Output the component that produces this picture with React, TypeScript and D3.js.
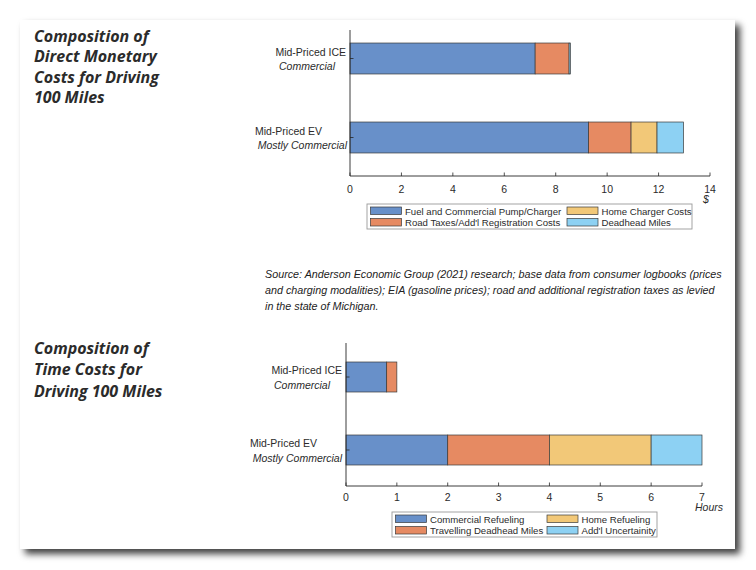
import React, { useEffect } from "react";
import * as d3 from "d3";

// ---------- Data ----------
const costCategories = ["Mid-Priced ICE", "Mid-Priced EV"];
const costSubtitles = ["Commercial", "Mostly Commercial"];
const costSeries = [
  "Fuel and Commercial Pump/Charger",
  "Road Taxes/Add'l Registration Costs",
  "Home Charger Costs",
  "Deadhead Miles",
];
const costFuel = [7.2, 9.28];
const costRoad = [1.32, 1.65];
const costHome = [0, 1.01];
const costDeadhead = [0.05, 1.03];
const costTicks = [0, 2, 4, 6, 8, 10, 12, 14];

const timeCategories = ["Mid-Priced ICE", "Mid-Priced EV"];
const timeSubtitles = ["Commercial", "Mostly Commercial"];
const timeSeries = [
  "Commercial Refueling",
  "Travelling Deadhead Miles",
  "Home Refueling",
  "Add'l Uncertainity",
];
const timeCommercial = [0.8, 2];
const timeDeadhead = [0.2, 2];
const timeHome = [0, 2];
const timeUncertainty = [0, 1];
const timeTicks = [0, 1, 2, 3, 4, 5, 6, 7];

const sourceLines = [
  "Source: Anderson Economic Group (2021) research; base data from consumer logbooks (prices",
  "and charging modalities); EIA (gasoline prices); road and additional registration taxes as levied",
  "in the state of Michigan.",
];
const title1 = ["Composition of", "Direct Monetary", "Costs for Driving", "100 Miles"];
const title2 = ["Composition of", "Time Costs for", "Driving 100 Miles"];

const colors = ["#6890c9", "#e68a62", "#f2c878", "#8dd1f3"];

const FONT = "'Liberation Sans', Arial, sans-serif";
const TITLE_FONT = "'Open Sans', sans-serif";
const TEXT = "#2b2b2b";

type ChartProps = {
  categories: string[];
  subtitles: string[];
  series: string[];
  values: number[][];
  ticks: number[];
  xRange: [number, number];
  bandRange: [number, number];
  paddingInner: number;
  axisTop: number;
  axisBottom: number;
  tickLabelOffset: number;
  unit: string;
  unitPos: [number, number];
  labelEnds: [number, number][];
  legend: { x: number; y: number; w: number; h: number; col2: number };
};

function StackedChart(p: ChartProps) {
  const max = p.ticks[p.ticks.length - 1];
  const x = d3.scaleLinear().domain([0, max]).range(p.xRange);
  const y = d3
    .scaleBand<string>()
    .domain(p.categories)
    .range(p.bandRange)
    .paddingInner(p.paddingInner)
    .paddingOuter(p.paddingInner / 2);

  const rows = p.categories.map((c, i) => {
    const r: any = { cat: c };
    p.series.forEach((s, j) => (r[s] = p.values[j][i]));
    return r;
  });
  const stacked = d3.stack<any>().keys(p.series)(rows);
  const x0 = p.xRange[0];
  const bw = y.bandwidth();

  return (
    <g>
      {stacked.map((layer, j) =>
        layer.map((d, i) => {
          const w = x(d[1]) - x(d[0]);
          if (w <= 0) return null;
          return (
            <rect
              key={`${j}-${i}`}
              x={x(d[0])}
              y={y(p.categories[i])!}
              width={w}
              height={bw}
              fill={colors[j]}
              stroke="#3a3a3a"
              strokeWidth={0.7}
            />
          );
        })
      )}
      <line x1={x0} x2={x0} y1={p.axisTop} y2={p.axisBottom} stroke="#262626" strokeWidth={0.9} />
      <line x1={x0} x2={p.xRange[1]} y1={p.axisBottom} y2={p.axisBottom} stroke="#262626" strokeWidth={0.9} />
      {p.ticks.map((t) => (
        <g key={t}>
          <line x1={x(t)} x2={x(t)} y1={p.axisBottom} y2={p.axisBottom - 3.5} stroke="#262626" strokeWidth={0.8} />
          <text
            x={x(t)}
            y={p.axisBottom + p.tickLabelOffset}
            textAnchor="middle"
            fontFamily={FONT}
            fontSize={10.5}
            fill={TEXT}
          >
            {t}
          </text>
        </g>
      ))}
      <text
        x={p.unitPos[0]}
        y={p.unitPos[1]}
        textAnchor="middle"
        fontFamily={FONT}
        fontStyle="italic"
        fontSize={10.5}
        fill={TEXT}
      >
        {p.unit}
      </text>
      {p.categories.map((c, i) => {
        const cy = y(c)! + bw / 2;
        return (
          <g key={c}>
            <line x1={x0} x2={x0 + 3.5} y1={cy} y2={cy} stroke="#262626" strokeWidth={0.8} />
            <text x={p.labelEnds[i][0]} y={cy - 3} textAnchor="end" fontFamily={FONT} fontSize={10.5} fill={TEXT}>
              {c}
            </text>
            <text
              x={p.labelEnds[i][1]}
              y={cy + 11.5}
              textAnchor="end"
              fontFamily={FONT}
              fontStyle="italic"
              fontSize={10.5}
              fill={TEXT}
            >
              {p.subtitles[i]}
            </text>
          </g>
        );
      })}
      <rect
        x={p.legend.x}
        y={p.legend.y}
        width={p.legend.w}
        height={p.legend.h}
        fill="#fff"
        stroke="#9a9a9a"
        strokeWidth={0.9}
      />
      {p.series.map((s, j) => {
        const col = Math.floor(j / 2);
        const row = j % 2;
        const sx = col === 0 ? p.legend.x + 3.5 : p.legend.col2;
        const sy = p.legend.y + 3 + row * 11.5;
        return (
          <g key={s}>
            <rect x={sx} y={sy} width={31} height={7.5} fill={colors[j]} stroke="#3a3a3a" strokeWidth={0.7} />
            <text x={sx + 34.5} y={sy + 7.5} fontFamily={FONT} fontSize={9.6} fill={TEXT}>
              {s}
            </text>
          </g>
        );
      })}
    </g>
  );
}

export default function App() {
  useEffect(() => {
    document.body.style.margin = "0";
  }, []);

  return (
    <svg width={756} height={570} style={{ display: "block" }} xmlns="http://www.w3.org/2000/svg">
      <defs>
        <filter id="shadow" x="-5%" y="-5%" width="115%" height="115%">
          <feDropShadow dx={5} dy={5} stdDeviation={3.5} floodColor="#000" floodOpacity={0.75} />
        </filter>
      </defs>
      <rect x={0} y={0} width={756} height={570} fill="#fff" />
      <rect x={20} y={20} width={715} height={529} fill="#fff" filter="url(#shadow)" />

      {title1.map((t, i) => (
        <text
          key={i}
          x={34}
          y={41.5 + i * 20.6}
          fontFamily={TITLE_FONT}
          fontWeight={700}
          fontStyle="italic"
          fontSize={16}
          fill={TEXT}
        >
          {t}
        </text>
      ))}
      {title2.map((t, i) => (
        <text
          key={i}
          x={34}
          y={353.5 + i * 21.7}
          fontFamily={TITLE_FONT}
          fontWeight={700}
          fontStyle="italic"
          fontSize={16}
          fill={TEXT}
        >
          {t}
        </text>
      ))}

      <StackedChart
        categories={costCategories}
        subtitles={costSubtitles}
        series={costSeries}
        values={[costFuel, costRoad, costHome, costDeadhead]}
        ticks={costTicks}
        xRange={[350, 710]}
        bandRange={[19, 177]}
        paddingInner={0.608}
        axisTop={30}
        axisBottom={176}
        tickLabelOffset={16.5}
        unit="$"
        unitPos={[706, 203]}
        labelEnds={[
          [346, 335],
          [322, 347],
        ]}
        legend={{ x: 367, y: 204, w: 325, h: 25, col2: 567 }}
      />

      {sourceLines.map((l, i) => (
        <text
          key={i}
          x={265}
          y={278 + i * 15.8}
          fontFamily={FONT}
          fontStyle="italic"
          fontSize={10.75}
          fill="#222"
        >
          {l}
        </text>
      ))}

      <StackedChart
        categories={timeCategories}
        subtitles={timeSubtitles}
        series={timeSeries}
        values={[timeCommercial, timeDeadhead, timeHome, timeUncertainty]}
        ticks={timeTicks}
        xRange={[346, 702]}
        bandRange={[340.5, 486.5]}
        paddingInner={0.589}
        axisTop={343}
        axisBottom={486}
        tickLabelOffset={14.5}
        unit="Hours"
        unitPos={[709, 511]}
        labelEnds={[
          [342, 330],
          [317, 342],
        ]}
        legend={{ x: 392, y: 512, w: 265, h: 25, col2: 547 }}
      />
    </svg>
  );
}
